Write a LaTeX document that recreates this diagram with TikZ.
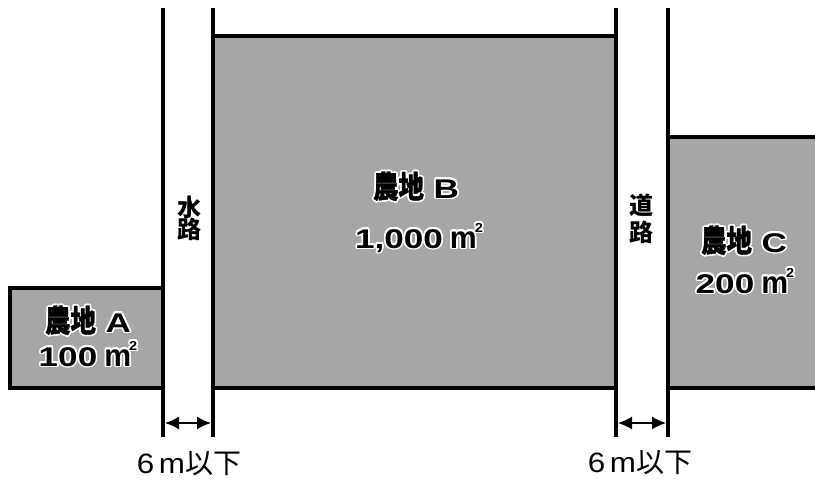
\documentclass[tikz,border=0pt]{standalone}
\usepackage{fontspec}
\setmainfont{Liberation Sans}
\newfontfamily\jp{Noto Sans CJK JP}
\newfontfamily\jpc[FakeStretch=0.82,FakeBold=1.2]{Noto Sans CJK JP}
\newfontfamily\latw[FakeStretch=1.3]{Liberation Sans}
\newfontfamily\latd[FakeStretch=1.12]{Liberation Sans}
\usepackage{contour}
\contourlength{1.6pt}
\usetikzlibrary{arrows.meta}
\definecolor{fieldgray}{HTML}{A6A6A6}
\newcommand{\cj}[1]{{\fontsize{31}{32}\selectfont\jpc\bfseries #1}}
\newcommand{\lt}[1]{{\fontsize{27}{30}\selectfont\latw\bfseries #1}}
\newcommand{\sqm}{{\hspace{7pt}\fontsize{27}{30}\selectfont\latd\bfseries\scalebox{1}[1.15]{m}\kern-2pt\raisebox{16pt}{\fontsize{13}{13}\selectfont 2}}}
\tikzset{
  field/.style={fill=fieldgray},
  edge/.style={line width=3.5pt},
  lbl/.style={inner sep=0pt, anchor=base},
  vlbl/.style={inner sep=0pt, font=\fontsize{24}{26}\selectfont\jp\bfseries},
  dimtext/.style={inner sep=0pt, anchor=base, font=\fontsize{28}{30}\selectfont},
  dim/.style={line width=1.5pt, {Latex[length=14pt,width=13pt]}-{Latex[length=14pt,width=13pt]}},
}
\begin{document}
\begin{tikzpicture}[x=1pt,y=-1pt]
\useasboundingbox (0,0) rectangle (815,482);
% fills
\fill[field] (10,288) rectangle (163,388);
\fill[field] (213,36) rectangle (616,388);
\fill[field] (668,137) rectangle (815,388);
% field borders
\draw[edge] (163,288) -- (10,288) -- (10,388) -- (163,388);
\draw[edge] (213,36) -- (616,36);
\draw[edge] (213,388) -- (616,388);
\draw[edge] (668,137) -- (817,137);
\draw[edge] (668,388) -- (817,388);
% canal and road lines
\coordinate (c1t) at (163,8); \coordinate (c1b) at (163,437);
\coordinate (c2t) at (213,8); \coordinate (c2b) at (213,437);
\coordinate (r1t) at (616,8); \coordinate (r1b) at (616,437);
\coordinate (r2t) at (668,8); \coordinate (r2b) at (668,437);
\draw[edge] (c1t) -- (c1b);
\draw[edge] (c2t) -- (c2b);
\draw[edge] (r1t) -- (r1b);
\draw[edge] (r2t) -- (r2b);
% dimension arrows
\coordinate (ca) at (165,423); \coordinate (cb) at (211,423);
\coordinate (ra) at (618,423); \coordinate (rb) at (666,423);
\draw[dim] (ca) -- (cb);
\draw[dim] (ra) -- (rb);
\node[dimtext] (d1) at (189,473) {\latd 6\,m{\jp 以下}};
\node[dimtext] (d2) at (640,472) {\latd 6\,m{\jp 以下}};
% vertical labels
\node[vlbl] (w1) at (189,207) {水};
\node[vlbl] (w2) at (189,229) {路};
\node[vlbl] (r1) at (641,205) {道};
\node[vlbl] (r2) at (641,232) {路};
% field labels
\node[lbl] (a1) at (88,332) {\contour{white}{\cj{農地}\lt{ A}}};
\node[lbl] (a2) at (88,366) {\contour{white}{\lt{100}\sqm}};
\node[lbl] (b1) at (416,198) {\contour{white}{\cj{農地}\lt{ B}}};
\node[lbl] (b2) at (419,248) {\contour{white}{\lt{1,000}\sqm}};
\node[lbl] (cc1) at (744,252) {\contour{white}{\cj{農地}\lt{ C}}};
\node[lbl] (cc2) at (745,293) {\contour{white}{\lt{200}\sqm}};
\end{tikzpicture}
\end{document}
